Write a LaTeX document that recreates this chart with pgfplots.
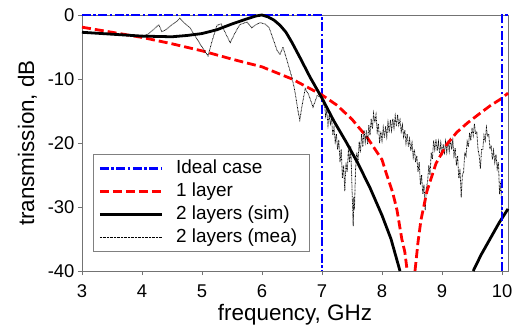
\documentclass[border=0pt]{standalone}
\usepackage{fontspec}
\setmainfont{Liberation Sans}
\usepackage{pgfplots}
\pgfplotsset{compat=1.18}
\begin{document}
\begin{tikzpicture}
\begin{axis}[
  at={(0,0)}, anchor=south west,
  scale only axis, width=426bp, height=256bp,
  xmin=3, xmax=10.1, ymin=-40, ymax=0,
  xtick={3,4,5,6,7,8,9,10}, ytick={-40,-30,-20,-10,0},
  tick align=outside, tick pos=left, major tick length=4bp,
  axis line style={black!55, line width=0.9pt},
  every tick/.style={black!55, line width=0.9pt},
  tick label style={font=\fontsize{18.5}{20}\selectfont},
  xticklabel style={yshift=-6bp},
  /pgf/number format/assume math mode=true,
  xlabel={frequency, GHz}, ylabel={transmission, dB},
  label style={font=\fontsize{22.5}{26}\selectfont},
  xlabel style={at={(axis description cs:0.5,-0.172)}, anchor=center},
  ylabel style={at={(axis description cs:-0.128,0.5)}, anchor=center},
  clip=false,
  legend style={at={(axis description cs:0.026,0.074)}, anchor=south west,
    draw=black!50, line width=0.6pt, font=\fontsize{19}{21}\selectfont,
    inner xsep=5bp, inner ysep=4bp, row sep=3bp, cells={anchor=west},
    nodes={inner sep=1bp, text height=14bp, text depth=4bp},
    /tikz/every odd column/.append style={column sep=12bp}},
  legend image code/.code={\draw[#1] (0bp,0bp) -- (62bp,0bp);},
]
\addplot[blue, line width=2.6pt, dash pattern=on 9bp off 2.5bp on 2.5bp off 2.5bp]
  coordinates {(3,0) (7,0) (7,-40)};
\addlegendentry{\makebox[127bp][l]{Ideal case}}
\addplot[red, line width=2.8pt, dash pattern=on 9bp off 4bp]
  coordinates {(3.0,-1.9) (3.5,-2.7) (4.0,-3.5) (4.5,-4.5) (5.0,-5.6) (5.5,-6.9)
   (6.0,-8.1) (6.5,-10.0) (7.0,-12.5) (7.25,-14.1) (7.5,-16.3) (7.75,-19.1)
   (8.0,-22.6) (8.08,-25.0) (8.18,-27.8) (8.25,-30.5) (8.33,-35.0) (8.38,-37.0) (8.42,-40)};
\addlegendentry{1 layer}
\addplot[black, line width=2.8pt]
  coordinates {(3.0,-2.7) (3.5,-3.0) (4.0,-3.3) (4.5,-3.4) (4.75,-3.2) (5.0,-2.9)
   (5.25,-2.3) (5.5,-1.4) (5.75,-0.6) (5.9,-0.15) (6.0,0) (6.1,-0.3) (6.2,-0.8)
   (6.3,-1.6) (6.4,-2.7) (6.5,-4.3) (6.63,-6.6) (6.8,-9.7) (7.0,-13.0) (7.2,-16.6)
   (7.4,-19.8) (7.6,-23.2) (7.8,-27.0) (8.0,-31.3) (8.15,-35.0) (8.3,-40)};
\addlegendentry{2 layers (sim)}
\addplot[black, line width=0.8pt, dash pattern=on 0.7bp off 0.7bp]
  coordinates {(3.0,-2.7) (3.5,-3.0) (4.0,-3.3) (4.1,-3.0) (4.2,-2.2) (4.28,-1.5)
   (4.33,-2.6) (4.4,-2.3) (4.5,-1.5) (4.58,-1.0) (4.63,-0.5) (4.7,-1.2) (4.8,-2.0)
   (4.9,-3.5) (5.0,-5.0) (5.1,-6.4) (5.17,-4.0) (5.25,-1.6) (5.32,-1.4) (5.4,-3.0)
   (5.47,-4.3) (5.55,-2.8) (5.63,-1.5) (5.75,-1.1) (5.83,-2.0) (5.9,-1.5) (5.97,-1.2)
   (6.05,-1.4) (6.12,-2.0) (6.18,-3.6) (6.25,-5.5) (6.3,-6.2) (6.35,-5.0) (6.42,-7.2)
   (6.5,-9.8) (6.55,-12.0) (6.6,-15.0) (6.63,-16.4) (6.67,-14.0) (6.72,-11.5)
   (6.78,-12.5) (6.85,-14.4) (6.92,-12.6) (6.97,-12.8)
   (7.00,-12.8) (7.02,-14.0) (7.04,-13.5) (7.06,-15.8) (7.08,-15.0) (7.10,-17.2)
   (7.12,-15.6) (7.14,-17.0) (7.16,-16.2) (7.18,-18.8) (7.20,-17.6) (7.22,-19.8)
   (7.24,-18.6) (7.26,-21.0) (7.28,-19.5) (7.30,-23.0) (7.32,-21.0) (7.34,-25.5)
   (7.36,-23.5) (7.38,-27.5) (7.40,-23.0) (7.42,-24.5) (7.44,-21.0) (7.46,-23.0)
   (7.48,-20.5) (7.50,-27.0) (7.52,-33.0) (7.53,-28.5) (7.54,-30.5) (7.56,-24.0)
   (7.58,-21.5) (7.60,-23.0) (7.62,-19.8) (7.64,-21.5) (7.66,-18.6) (7.68,-20.6)
   (7.70,-18.0) (7.72,-19.8) (7.74,-18.0) (7.76,-20.2) (7.78,-17.2) (7.80,-18.8)
   (7.82,-16.2) (7.84,-17.8) (7.86,-15.4) (7.88,-16.8) (7.90,-15.6) (7.92,-18.2)
   (7.94,-17.0) (7.96,-20.0) (7.98,-18.2) (8.00,-19.6) (8.02,-17.6) (8.04,-19.2)
   (8.06,-17.4) (8.08,-19.0) (8.10,-16.8) (8.12,-18.4) (8.14,-16.4) (8.16,-18.0)
   (8.18,-16.2) (8.20,-17.6) (8.22,-15.8) (8.24,-17.4) (8.26,-15.6) (8.28,-17.2)
   (8.30,-16.4) (8.32,-18.2) (8.34,-17.2) (8.36,-19.0) (8.38,-18.0) (8.40,-20.0)
   (8.42,-18.6) (8.44,-20.6) (8.46,-19.4) (8.48,-21.2) (8.50,-20.0) (8.52,-22.2)
   (8.54,-21.0) (8.56,-23.0) (8.58,-22.0) (8.60,-24.5) (8.62,-23.0) (8.64,-26.5)
   (8.66,-25.0) (8.68,-28.0) (8.70,-26.5) (8.72,-30.5) (8.74,-27.0) (8.76,-26.0)
   (8.78,-23.5) (8.80,-25.0) (8.82,-21.5) (8.84,-22.5) (8.86,-19.6) (8.88,-21.0)
   (8.90,-19.4) (8.92,-21.2) (8.94,-19.8) (8.96,-21.6) (8.98,-20.0) (9.00,-22.0)
   (9.02,-20.2) (9.04,-21.8) (9.06,-19.8) (9.08,-21.4) (9.10,-19.6) (9.12,-21.2)
   (9.14,-19.2) (9.16,-21.0) (9.18,-19.6) (9.20,-22.0) (9.22,-20.8) (9.24,-23.5)
   (9.26,-22.0) (9.28,-25.5) (9.30,-24.0) (9.32,-28.5) (9.34,-25.0) (9.36,-24.5)
   (9.38,-21.5) (9.40,-22.0) (9.42,-19.8) (9.44,-20.6) (9.46,-18.4) (9.48,-19.6)
   (9.50,-17.6) (9.52,-18.8) (9.54,-17.0) (9.56,-18.6) (9.58,-18.2) (9.60,-21.0)
   (9.62,-22.0) (9.64,-24.0) (9.66,-21.0) (9.68,-21.0) (9.70,-18.8) (9.72,-19.6)
   (9.74,-17.6) (9.76,-19.0) (9.78,-18.6) (9.80,-21.0) (9.82,-20.4) (9.84,-22.6)
   (9.86,-21.2) (9.88,-23.0) (9.90,-21.8) (9.92,-24.0) (9.94,-23.0) (9.96,-28.0)
   (9.98,-26.0) (10.00,-31.5)};
\addlegendentry{2 layers (mea)}
\addplot[forget plot, red, line width=2.8pt, dash pattern=on 9bp off 4bp]
  coordinates {(8.55,-40) (8.6,-35.5) (8.65,-32.0) (8.75,-27.5) (8.9,-23.2)
   (9.08,-20.2) (9.25,-18.3) (9.42,-16.9) (9.6,-15.6) (9.8,-14.2) (10.0,-13.0) (10.1,-12.2)};
\addplot[forget plot, black, line width=2.8pt]
  coordinates {(9.52,-40) (9.65,-37.5) (9.8,-35.0) (9.95,-32.5) (10.1,-30.3)};
\addplot[forget plot, blue, line width=2.6pt, dash pattern=on 9bp off 2.5bp on 2.5bp off 2.5bp]
  coordinates {(10,-40) (10,0) (10.1,0)};
\end{axis}
\pgfresetboundingbox
\useasboundingbox (-82bp,-58bp) rectangle (433bp,271bp);
\end{tikzpicture}
\end{document}
